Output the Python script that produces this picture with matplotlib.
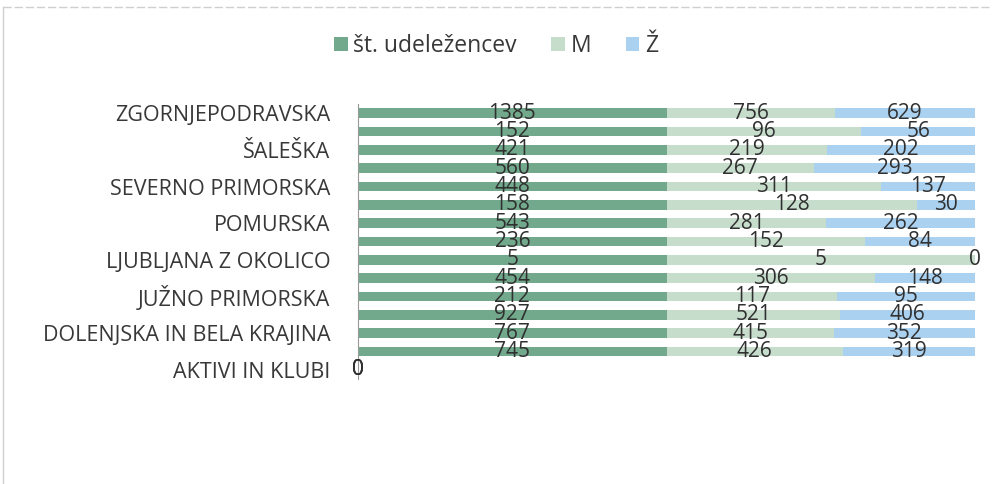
import matplotlib.pyplot as plt
import numpy as np

# categories top to bottom (only every other one is labelled on the axis)
categories = ['ZGORNJEPODRAVSKA', '', 'ŠALEŠKA', '', 'SEVERNO PRIMORSKA', '',
              'POMURSKA', '', 'LJUBLJANA Z OKOLICO', '', 'JUŽNO PRIMORSKA', '',
              'DOLENJSKA IN BELA KRAJINA', '', 'AKTIVI IN KLUBI']
udelezenci = [1385, 152, 421, 560, 448, 158, 543, 236, 5, 454, 212, 927, 767, 745, 0]
moski = [756, 96, 219, 267, 311, 128, 281, 152, 5, 306, 117, 521, 415, 426, 0]
zenske = [629, 56, 202, 293, 137, 30, 262, 84, 0, 148, 95, 406, 352, 319, 0]

series = [('št. udeležencev', udelezenci, '#72a98c'),
          ('M', moski, '#c6ddcc'),
          ('Ž', zenske, '#abd1f0')]

plt.rcParams['font.family'] = ['Open Sans', 'DejaVu Sans']
text_color = '#383838'
fs = 15.5

fig = plt.figure(figsize=(9.92, 4.84), dpi=100)
ax = fig.add_axes([0.361, 0.217, 0.622, 0.568])

vals = np.array([s[1] for s in series], dtype=float)
totals = vals.sum(axis=0)
frac = np.divide(vals, totals, out=np.zeros_like(vals), where=totals > 0)

y = np.arange(len(categories))
left = np.zeros(len(categories))
for (name, v, color), f in zip(series, frac):
    ax.barh(y, f, left=left, height=0.52, color=color, label=name)
    for yi, li, fi, vi in zip(y, left, f, v):
        ax.text(li + fi / 2, yi, str(vi), ha='center', va='center',
                fontsize=15, color='#303030')
    left = left + f

ax.set_ylim(len(categories) - 0.5, -0.5)
ax.set_xlim(0, 1)
ax.set_yticks(y[::2])
ax.set_yticklabels(categories[::2], fontsize=fs, color=text_color)
ax.tick_params(axis='y', length=0, pad=20)
ax.set_xticks([])
for side in ['top', 'right', 'bottom']:
    ax.spines[side].set_visible(False)
ax.spines['left'].set_color('#999999')

fig.legend(loc='center', bbox_to_anchor=(0.5, 0.905), ncol=3, frameon=False,
           fontsize=16.5, handlelength=0.6, handleheight=0.6, handletextpad=0.25,
           columnspacing=1.5, labelcolor=text_color)

# faint scan border (left and top)
fig.add_artist(plt.Line2D([0.003, 0.003], [0.0, 0.985], transform=fig.transFigure,
                          color='#cfcfcf', linewidth=1))
fig.add_artist(plt.Line2D([0.003, 0.997], [0.985, 0.985], transform=fig.transFigure,
                          color='#cfcfcf', linewidth=1, linestyle=(0, (6, 2))))

fig.savefig('out.png', dpi=100)
